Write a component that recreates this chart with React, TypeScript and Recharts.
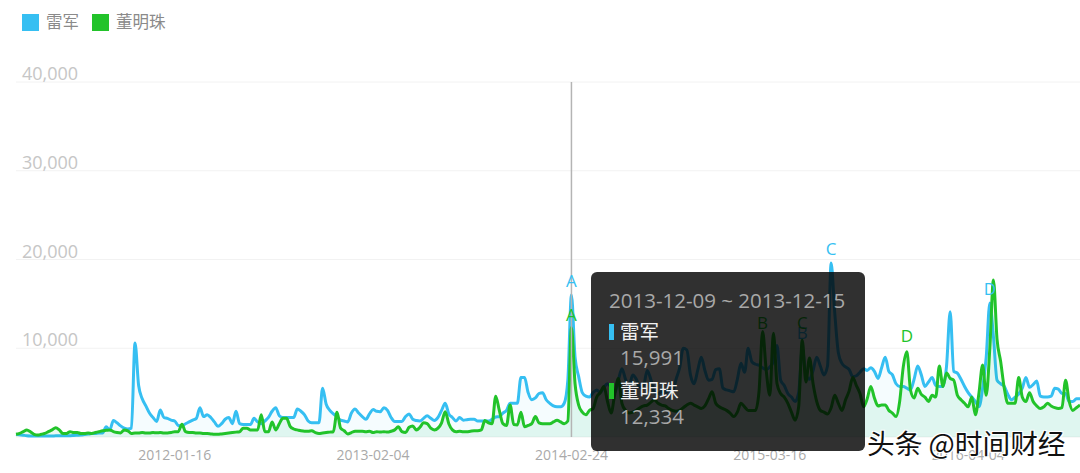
import { AreaChart, Area, XAxis, YAxis, CartesianGrid, Tooltip, ReferenceDot } from "recharts"

const seriesNames = ["雷军", "董明珠"]
const COLORS = ["#36bff2", "#22c32a"]

const leiJun = [
  300, 250, 200, 150, 120, 100, 100, 100, 110, 120,
  120, 130, 130, 140, 150, 150, 170, 200, 230, 280,
  330, 380, 400, 450, 450, 1150, 800, 1850, 1600, 1250,
  1000, 900, 1000, 10600, 5800, 4300, 3500, 2700, 2200, 1750,
  3050, 2200, 2100, 1900, 1800, 1300, 1250, 1500, 1700, 1900,
  2100, 3300, 2300, 2500, 2200, 1700, 1200, 1500, 2000, 2200,
  1500, 2900, 1500, 1400, 1400, 1400, 2100, 1700, 1500, 1800,
  2200, 2900, 3300, 2400, 2200, 2200, 2200, 2200, 3150, 2900,
  2500, 1800, 1600, 1600, 1600, 5500, 3700, 3000, 2600, 2300,
  1900, 1800, 1700, 2700, 3150, 2700, 2300, 2000, 2600, 3100,
  2900, 2850, 3300, 3000, 2200, 1750, 1750, 1750, 2300, 2600,
  2000, 1850, 1800, 2100, 2400, 2100, 1850, 2200, 3000, 3800,
  2600, 2200, 1800, 2200, 1900, 1950, 2000, 2000, 1800, 1800,
  1800, 1800, 2000, 2250, 2300, 2700, 3000, 3800, 3800, 3800,
  6700, 6700, 5000, 4200, 4400, 4900, 5000, 4200, 3800, 3500,
  3400, 3400, 3800, 6400, 15991, 9000, 6800, 5000, 4600, 4500,
  5000, 5300, 5000, 5600, 6000, 5600, 5000, 6400, 7700, 6500,
  5800, 7000, 6500, 5600, 5800, 7500, 6500, 5000, 4900, 5100,
  5000, 5300, 5000, 6500, 7800, 10000, 9800, 7000, 6000, 7500,
  9000, 7500, 6400, 6500, 7600, 7700, 5500, 5300, 5200, 5100,
  6500, 8300, 7300, 10000, 8500, 8200, 8100, 7800, 7600, 7900,
  8500, 10300, 6400, 5800, 4900, 4500, 4000, 5000, 10000, 7000,
  6500, 7500, 9000, 8000, 7000, 8000, 19600, 14000, 9500, 8300,
  7900, 7600, 6800, 6900, 7300, 7700, 7500, 7800, 7400, 6600,
  7800, 9000, 7400, 7000, 6000, 5700, 5700, 5500, 5300, 6500,
  8000, 7000, 5700, 6200, 6700, 5800, 5700, 5700, 8000, 14100,
  7400, 7200, 6500, 5700, 5000, 4500, 4000, 3400, 5500, 9000,
  15100, 11300, 6400, 6000, 5700, 4800, 4200, 4500, 4850, 5500,
  6700, 5600, 5900, 6300, 4600, 4500, 4500, 4600, 5500, 5400,
  4900, 4900, 4000, 4000, 4300, 4300,
]

const dongMingzhu = [
  300, 400, 600, 800, 600, 300, 220, 300, 400, 600,
  800, 1050, 800, 400, 400, 600, 500, 500, 400, 400,
  450, 400, 500, 600, 700, 750, 800, 600, 500, 450,
  800, 700, 400, 450, 450, 500, 450, 450, 500, 480,
  500, 450, 450, 500, 600, 600, 1450, 600, 500, 500,
  450, 450, 400, 400, 350, 300, 300, 350, 400, 450,
  500, 550, 600, 1000, 1000, 800, 800, 800, 2500, 600,
  600, 1700, 800, 1500, 2100, 2100, 1200, 900, 800, 700,
  650, 650, 700, 500, 400, 450, 500, 550, 600, 2800,
  1000, 700, 350, 500, 650, 650, 650, 600, 650, 500,
  600, 550, 600, 550, 650, 800, 1150, 600, 500, 1100,
  1250, 800, 1100, 1600, 1500, 1000, 800, 1000, 1600, 2850,
  1500, 800, 600, 650, 600, 600, 650, 700, 700, 800,
  1850, 1600, 1500, 4600, 3000, 1500, 1300, 3600, 1400, 1350,
  2800, 1150, 1300, 1500, 2300, 1600, 1500, 1500, 1500, 1700,
  1900, 1700, 1500, 1800, 12334, 6000, 3600, 2800, 2500, 3000,
  3200, 4500, 5000, 5700, 4000, 2700, 4800, 6600, 3800, 3000,
  2700, 2800, 3000, 3300, 3500, 3600, 3900, 4200, 3800, 3600,
  3500, 3200, 3000, 2900, 3000, 3300, 3600, 3800, 3600, 3400,
  3200, 3500, 4300, 5100, 3800, 3400, 3200, 3000, 2700, 2300,
  2800, 3800, 3400, 3000, 3000, 3000, 5100, 11900, 7500, 4700,
  11700, 6000, 4900, 4500, 3800, 2800, 1900, 3400, 10900, 6200,
  8900, 6000, 4000, 3000, 2800, 2600, 3300, 4700, 3800, 3000,
  4200, 5200, 6700, 5800, 4900, 3400, 4300, 5700, 4400, 3500,
  3600, 3600, 3000, 2700, 2300, 4000, 7900, 9600, 5300, 4400,
  5500, 4800, 4500, 4000, 4700, 4500, 8000, 5700, 7200, 6600,
  6400, 4700, 4200, 3800, 3400, 4500, 2500, 5000, 8100, 4700,
  10000, 17700, 11000, 8500, 5500, 3800, 3800, 3800, 6700, 4500,
  4000, 5000, 4000, 3500, 3200, 3400, 3800, 3500, 3300, 3200,
  3300, 6400, 4000, 3000, 3300, 3600,
]

const xTickWeeks = [44, 99, 154, 209, 264]
const xTickLabels = ["2012-01-16", "2013-02-04", "2014-02-24", "2015-03-16", "2016-04-04"]
const yTicks = [10000, 20000, 30000, 40000]

const tooltipRange = "2013-12-09 ~ 2013-12-15"
const tooltipWeek = 154

const data = leiJun.map((v, i) => ({ week: i, leiJun: v, dongMingzhu: dongMingzhu[i] }))

const font = "'Open Sans', 'Noto Sans CJK SC', sans-serif"

function YTick({ y, payload }: any) {
  return (
    <text x={22} y={y - 2} fill="#c6c6c6" fontSize={18} fontFamily={font}>
      {payload.value.toLocaleString("en-US")}
    </text>
  )
}

function TooltipBox({ payload }: any) {
  return (
    <div
      style={{
        width: 274,
        height: 179,
        boxSizing: "border-box",
        padding: "14px 18px",
        background: "rgba(0,0,0,0.81)",
        borderRadius: 6,
        fontFamily: font,
        fontSize: 20.5,
        lineHeight: "28px",
        color: "#a8a8a8",
      }}
    >
      <div>{tooltipRange}</div>
      {(payload || []).map((p: any, i: number) => (
        <div key={p.name} style={{ position: "relative", marginTop: i === 0 ? 4 : 6 }}>
          <span
            style={{
              position: "absolute",
              left: 0,
              top: 6,
              width: 5,
              height: 16,
              background: COLORS[i],
            }}
          />
          <div style={{ paddingLeft: 11, color: "#f0f0f0", fontSize: 19.5 }}>{p.name}</div>
          <div style={{ paddingLeft: 11, marginTop: -3, color: "#a8a8a8" }}>{p.value.toLocaleString("en-US")}</div>
        </div>
      ))}
    </div>
  )
}

function mark(letter: string, week: number, series: number[], color: string, offset: number) {
  return (
    <ReferenceDot
      key={letter + color}
      x={week}
      y={series[week]}
      r={0}
      fill="none"
      stroke="none"
      label={{ value: letter, position: "top", fill: color, fontSize: 17, offset, fontFamily: font }}
    />
  )
}

export default function App() {
  return (
    <div style={{ position: "fixed", left: 0, top: 0, width: 1080, height: 473, background: "#fff", overflow: "hidden" }}>
      <AreaChart width={1080} height={473} data={data} margin={{ top: 82, right: 0, left: 15, bottom: 0 }}>
        <CartesianGrid vertical={false} stroke="#f2f2f2" />
        <XAxis
          dataKey="week"
          type="number"
          domain={[0, leiJun.length - 1]}
          ticks={xTickWeeks}
          tickFormatter={(w: number) => xTickLabels[xTickWeeks.indexOf(w)]}
          axisLine={false}
          tickLine={false}
          height={36}
          tick={{ fill: "#a9a9a9", fontSize: 14, fontFamily: font }}
          tickMargin={7}
          interval={0}
        />
        <YAxis
          domain={[0, 40000]}
          ticks={yTicks}
          width={1}
          axisLine={false}
          tickLine={false}
          tick={(props: any) => <YTick {...props} />}
        />
        <Tooltip
          active
          defaultIndex={tooltipWeek}
          position={{ x: 591, y: 272 }}
          isAnimationActive={false}
          cursor={{ stroke: "#b4b4b4", strokeWidth: 1.5 }}
          content={<TooltipBox />}
          wrapperStyle={{ outline: "none" }}
          allowEscapeViewBox={{ x: true, y: true }}
        />
        <Area
          dataKey="leiJun"
          name={seriesNames[0]}
          type="monotone"
          stroke={COLORS[0]}
          strokeWidth={3}
          fill="#36bff2"
          fillOpacity={0.05}
          dot={false}
          activeDot={false}
          isAnimationActive={false}
        />
        <Area
          dataKey="dongMingzhu"
          name={seriesNames[1]}
          type="monotone"
          stroke={COLORS[1]}
          strokeWidth={3}
          fill="#10b860"
          fillOpacity={0.09}
          dot={false}
          activeDot={false}
          isAnimationActive={false}
        />
        {mark("A", 154, leiJun, COLORS[0], 8)}
        {mark("C", 226, leiJun, COLORS[0], 8)}
        {mark("B", 218, leiJun, COLORS[0], 9)}
        {mark("D", 270, leiJun, COLORS[0], 8)}
        {mark("A", 154, dongMingzhu, COLORS[1], 7)}
        {mark("B", 207, dongMingzhu, COLORS[1], 2)}
        {mark("C", 218, dongMingzhu, COLORS[1], 11)}
        {mark("D", 247, dongMingzhu, COLORS[1], 10)}
      </AreaChart>

      <div style={{ position: "absolute", left: 22, top: 10, display: "flex", fontFamily: font, fontSize: 16.5, lineHeight: "24px", color: "#8a8a8a" }}>
        {seriesNames.map((name, i) => (
          <div key={name} style={{ display: "flex", alignItems: "center", marginRight: 13 }}>
            <span style={{ width: 17, height: 17, background: COLORS[i], marginRight: 7 }} />
            {name}
          </div>
        ))}
      </div>

      <div
        style={{
          position: "absolute",
          left: 867,
          top: 424,
          fontFamily: "'Noto Sans CJK SC', sans-serif",
          fontSize: 27.7,
          lineHeight: "36px",
          color: "#111",
          textShadow: "1px 1px 0 #fff, -1px -1px 0 #fff, 1px -1px 0 #fff, -1px 1px 0 #fff",
          whiteSpace: "nowrap",
        }}
      >
        头条 @时间财经
      </div>
    </div>
  )
}
